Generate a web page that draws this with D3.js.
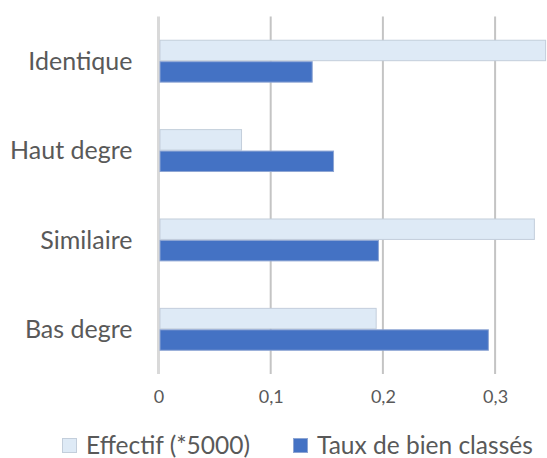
<!DOCTYPE html>
<html>
<head>
<meta charset="utf-8">
<script src="https://cdn.jsdelivr.net/npm/d3@7"></script>
<style>
    body { margin: 0; background: #fff; }
    text { font-family: Lato, "Open Sans", sans-serif; fill: #595959; }
</style>
</head>
<body>
<div id="my_dataviz"></div>
<script>
// Chart data
const categories = ["Identique", "Haut degre", "Similaire", "Bas degre"];
const seriesNames = ["Effectif (*5000)", "Taux de bien classés"];
const effectif = [0.345, 0.074, 0.335, 0.194];
const taux = [0.137, 0.156, 0.196, 0.294];
const xTicks = [0, 0.1, 0.2, 0.3];

// Set up dimensions
const margin = {top: 16.5, left: 158.5},
    width = 392.7,
    height = 357.5;

const svgRoot = d3.select("#my_dataviz").append("svg")
    .attr("width", 547)
    .attr("height", 458);

const svg = svgRoot.append("g")
    .attr("transform", "translate(" + margin.left + "," + margin.top + ")");

// Scales
const x = d3.scaleLinear()
    .domain([0, 0.35])
    .range([0, width]);

const y = d3.scaleBand()
    .domain(categories)
    .range([0, height])
    .paddingInner(0.52)
    .paddingOuter(0.26);

const ySub = d3.scaleBand()
    .domain(seriesNames)
    .range([0, y.bandwidth()]);

const color = d3.scaleOrdinal()
    .domain(seriesNames)
    .range(["#deeaf6", "#4472c4"]);
const border = d3.scaleOrdinal()
    .domain(seriesNames)
    .range(["#c3cedb", "#8da5d3"]);

// Gridlines
svg.selectAll(".grid")
    .data(xTicks)
    .enter().append("line")
    .attr("class", "grid")
    .attr("x1", d => x(d))
    .attr("x2", d => x(d))
    .attr("y1", 0)
    .attr("y2", height)
    .attr("stroke", d => d === 0 ? "#d9d9d9" : "#c4c4c4")
    .attr("stroke-width", d => d === 0 ? 3 : 2);

// Bars
const rows = categories.map((c, i) => ({
    category: c,
    values: [
        {series: seriesNames[0], value: effectif[i]},
        {series: seriesNames[1], value: taux[i]}
    ]
}));

const groups = svg.selectAll(".cat")
    .data(rows)
    .enter().append("g")
    .attr("class", "cat")
    .attr("transform", d => "translate(0," + y(d.category) + ")");

groups.selectAll("rect")
    .data(d => d.values)
    .enter().append("rect")
    .attr("x", x(0) + 1.5)
    .attr("y", d => ySub(d.series) + 0.5)
    .attr("width", d => x(d.value) - x(0) - 1.5)
    .attr("height", ySub.bandwidth() - 1)
    .attr("fill", d => color(d.series))
    .attr("stroke", d => border(d.series))
    .attr("stroke-width", 1);

// Category labels
svg.selectAll(".cat-label")
    .data(categories)
    .enter().append("text")
    .attr("class", "cat-label")
    .attr("x", -26)
    .attr("y", d => y(d) + y.bandwidth() / 2)
    .attr("dy", "0.35em")
    .attr("text-anchor", "end")
    .style("font-size", "25px")
    .text(d => d);

// X axis
const xAxis = svg.append("g")
    .attr("transform", "translate(0," + height + ")")
    .call(d3.axisBottom(x)
        .tickValues(xTicks)
        .tickSize(0)
        .tickPadding(16.5)
        .tickFormat(d => d === 0 ? "0" : d3.format(".1f")(d).replace(".", ",")));
xAxis.select(".domain").remove();
xAxis.selectAll("text")
    .style("font-family", "Lato, sans-serif")
    .style("font-size", "18px")
    .attr("fill", "#595959");

// Legend
const legendX = [62, 293];
const legend = svgRoot.selectAll(".legend")
    .data(seriesNames)
    .enter().append("g")
    .attr("class", "legend")
    .attr("transform", (d, i) => "translate(" + legendX[i] + ",438)");

legend.append("rect")
    .attr("x", 0.5)
    .attr("y", 0.5)
    .attr("width", 14)
    .attr("height", 14)
    .attr("fill", d => color(d))
    .attr("stroke", d => border(d));

legend.append("text")
    .attr("x", 24)
    .attr("y", 15.5)
    .style("font-size", "24.5px")
    .text(d => d);
</script>
</body>
</html>
